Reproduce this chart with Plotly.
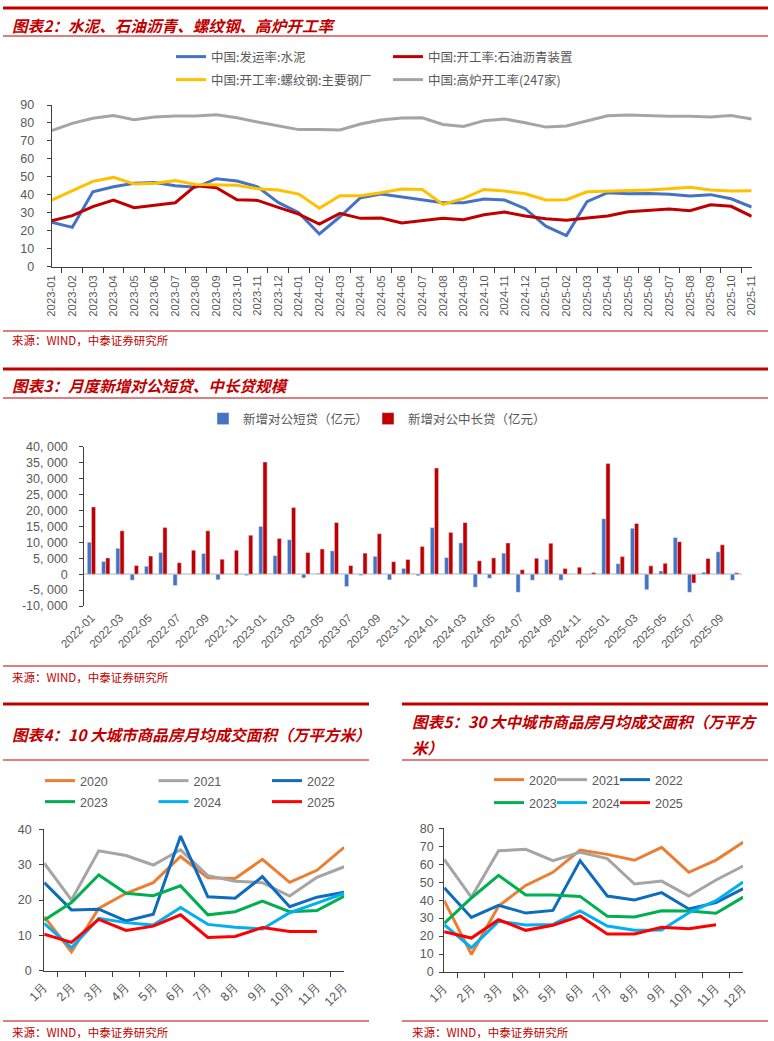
import plotly.graph_objects as go

W, H = 774, 1041


def px(x):
    return x / W


def py(y):
    return 1 - y / H


# ---------------- data: chart 2 (monthly rates, %) ----------------
months_top = [f"{y}-{m:02d}" for y in (2023, 2024, 2025) for m in range(1, 13)][:35]
cement_ship = [24.7, 21.9, 41.7, 44.5, 46.4, 46.9, 45.1, 44.2, 49.0, 47.7, 44.5, 35.8,
               30.1, 18.2, 27.8, 38.4, 40.4, 38.8, 37.1, 35.6, 35.6, 37.7, 37.1, 32.3,
               22.6, 17.3, 36.2, 41.2, 40.6, 40.8, 40.3, 39.3, 40.1, 37.8, 33.2]
asphalt_rate = [25.6, 28.4, 33.4, 37.1, 32.8, 34.3, 35.6, 45.1, 44.0, 37.3, 36.9, 33.0,
                29.3, 23.7, 29.7, 26.9, 27.1, 24.3, 25.8, 26.9, 26.2, 28.9, 30.4, 28.2,
                26.7, 25.8, 27.1, 28.2, 30.6, 31.4, 32.1, 31.2, 34.5, 33.6, 28.0]
rebar_rate = [37.1, 42.1, 47.5, 49.7, 46.0, 46.4, 47.9, 45.8, 45.6, 45.3, 43.4, 42.7,
              40.4, 32.5, 39.5, 39.5, 41.2, 43.2, 43.0, 34.7, 38.0, 43.0, 42.1, 40.6,
              37.1, 37.3, 41.7, 41.9, 42.3, 42.7, 43.4, 44.2, 42.7, 42.1, 42.3]
blast_rate = [75.7, 79.8, 82.6, 84.2, 81.8, 83.3, 83.9, 83.9, 84.6, 82.9, 80.5, 78.3,
              76.3, 76.3, 76.1, 79.4, 81.6, 82.7, 82.9, 79.2, 78.1, 81.3, 82.2, 80.1,
              77.7, 78.3, 81.3, 84.0, 84.4, 83.9, 83.7, 83.7, 83.3, 84.2, 82.2]

# ---------------- data: chart 3 (loans, 亿元) ----------------
months_bar = [f"{y}-{m:02d}" for y in (2022, 2023, 2024, 2025) for m in range(1, 13)][:46]
short_loans = [10000, 4000, 8100, -1900, 2500, 6800, -3600, -100, 6500, -1800, -100, -400,
               15000, 5800, 10800, -1200, 300, 7300, -3900, -400, 5600, -1800, 1800, -500,
               14600, 5200, 9800, -4100, -1300, 6600, -5700, -1900, 4600, -1900, 0, -200,
               17400, 3300, 14400, -4900, 1000, 11500, -5700, 600, 7000, -1900]
long_loans = [21100, 5100, 13600, 2700, 5700, 14600, 3600, 7500, 13600, 4700, 7500, 12200,
              35200, 11200, 20900, 6800, 7900, 16200, 2700, 6600, 12700, 3900, 4600, 8700,
              33300, 13100, 16200, 4200, 5100, 9800, 1400, 5000, 9700, 1800, 2200, 500,
              34700, 5500, 15900, 2600, 3400, 10200, -2800, 4900, 9200, 400]
bar_ticks = [-10000, -5000, 0, 5000, 10000, 15000, 20000, 25000, 30000, 35000, 40000]

# ---------------- data: chart 4 / 5 (万平方米) ----------------
month_labels = ["1月", "2月", "3月", "4月", "5月", "6月", "7月", "8月", "9月", "10月", "11月", "12月"]
years = ["2020", "2021", "2022", "2023", "2024", "2025"]
city10 = {
    "2020": [15.3, 5.3, 17.6, 21.9, 24.9, 32.3, 26.3, 26.1, 31.5, 25.0, 28.4, 34.9],
    "2021": [30.4, 20.0, 33.9, 32.6, 29.9, 34.2, 26.9, 25.3, 24.9, 21.1, 26.4, 29.4],
    "2022": [24.9, 17.2, 17.4, 14.1, 16.0, 38.1, 20.9, 20.5, 26.6, 18.1, 20.8, 22.2],
    "2023": [14.3, 19.3, 27.1, 21.9, 21.2, 24.0, 15.8, 16.7, 19.7, 16.7, 17.0, 21.1],
    "2024": [13.4, 6.5, 14.8, 13.6, 12.9, 17.9, 13.1, 12.3, 11.8, 16.4, 19.1, 21.9],
    "2025": [10.3, 8.0, 14.5, 11.4, 12.6, 15.8, 9.4, 9.7, 12.2, 11.1, 11.1],
}
city30 = {
    "2020": [39.7, 9.8, 36.7, 48.2, 55.5, 67.9, 65.5, 62.2, 69.4, 55.5, 62.3, 72.2],
    "2021": [62.7, 41.6, 67.5, 68.3, 62.0, 66.6, 63.1, 49.0, 50.6, 42.3, 51.2, 59.0],
    "2022": [46.9, 30.4, 37.1, 32.8, 34.3, 62.0, 42.3, 40.1, 44.2, 35.1, 38.6, 46.4],
    "2023": [27.1, 41.2, 53.8, 42.9, 42.9, 42.1, 31.0, 30.6, 34.1, 34.0, 32.7, 41.7],
    "2024": [26.3, 13.5, 28.2, 26.2, 26.5, 34.0, 25.6, 23.2, 23.4, 33.0, 39.7, 50.1],
    "2025": [22.4, 18.9, 29.1, 23.2, 26.0, 31.2, 21.2, 21.2, 24.9, 24.1, 26.3],
}
year_colors = {"2020": "#ED7D31", "2021": "#A5A5A5", "2022": "#0F6CBD",
               "2023": "#00B050", "2024": "#00B0F0", "2025": "#FF0000"}

RED = "#C00000"
GRAY_TXT = "#595959"
AX = "#404040"
CJK = "Noto Sans CJK SC"
LAT = "Liberation Sans, Arial, sans-serif"

fig = go.Figure()

# chart 2 lines
top_series = [
    ("中国:发运率:水泥", cement_ship, "#4472C4", "legend", None),
    ("中国:开工率:石油沥青装置", asphalt_rate, "#C00000", "legend", 200),
    ("中国:开工率:螺纹钢:主要钢厂", rebar_rate, "#FFC000", "legend2", None),
    ("中国:高炉开工率(247家)", blast_rate, "#A5A5A5", "legend2", 200),
]
for name, vals, col, lg, lw in top_series:
    fig.add_trace(go.Scatter(x=months_top, y=vals, mode="lines", name=name,
                             line=dict(color=col, width=3), xaxis="x", yaxis="y",
                             legend=lg, legendwidth=lw))

# chart 3 bars
fig.add_trace(go.Bar(x=months_bar, y=short_loans, name="新增对公短贷（亿元）",
                     marker=dict(color="#4472C4"), xaxis="x2", yaxis="y2", legend="legend3"))
fig.add_trace(go.Bar(x=months_bar, y=long_loans, name="新增对公中长贷（亿元）",
                     marker=dict(color="#C00000"), xaxis="x2", yaxis="y2", legend="legend3",
                     legendwidth=180))

# chart 4 / 5 lines
for i, yr in enumerate(years):
    lg = "legend4" if i < 3 else "legend5"
    v = city10[yr]
    fig.add_trace(go.Scatter(x=month_labels[:len(v)], y=v, mode="lines", name=yr,
                             line=dict(color=year_colors[yr], width=3),
                             xaxis="x3", yaxis="y3", legend=lg,
                             legendwidth=60 if i in (2, 5) else None))
for i, yr in enumerate(years):
    lg = "legend6" if i < 3 else "legend7"
    v = city30[yr]
    fig.add_trace(go.Scatter(x=month_labels[:len(v)], y=v, mode="lines", name=yr,
                             line=dict(color=year_colors[yr], width=3),
                             xaxis="x4", yaxis="y4", legend=lg,
                             legendwidth=50 if i in (2, 5) else None))

tickfont = dict(family=LAT, size=12.5, color=GRAY_TXT)


def cat_x(domain, anchor, angle, size, **kw):
    d = dict(domain=domain, anchor=anchor, type="category", showgrid=False,
             tickangle=angle, tickfont=dict(family=LAT, size=size, color=GRAY_TXT),
             zeroline=False, fixedrange=True, automargin=False)
    d.update(kw)
    return d


def val_y(domain, anchor, rng, dtick, **kw):
    d = dict(domain=domain, anchor=anchor, range=rng, dtick=dtick, showgrid=False,
             showline=True, linecolor=AX, linewidth=1, ticks="outside", ticklen=4,
             tickcolor=AX, tickfont=tickfont, zeroline=False, fixedrange=True,
             automargin=False)
    d.update(kw)
    return d


def legend_cfg(x, y, entry, font):
    return dict(orientation="h", x=px(x), y=py(y), xanchor="left", yanchor="middle",
                entrywidth=entry, entrywidthmode="pixels", bgcolor="rgba(0,0,0,0)",
                font=font, traceorder="normal")


leg_cjk = dict(family=CJK, size=12.5, color=GRAY_TXT)
leg_lat = dict(family=LAT, size=12.5, color=GRAY_TXT)

fig.update_layout(
    width=W, height=H, margin=dict(l=0, r=0, t=0, b=0, autoexpand=False),
    paper_bgcolor="white", plot_bgcolor="white",
    bargap=0.42, bargroupgap=0.0, barmode="group",
    xaxis=cat_x([px(51.7), px(751.7)], "y", -90, 11.3, tickson="boundaries",
                ticks="outside", ticklen=5, tickcolor=AX, showline=True, linecolor=AX,
                ticklabelstandoff=3),
    yaxis=val_y([py(266.7), py(105)], "x", [0, 90], 10, ticklabelstandoff=10),
    xaxis2=cat_x([px(84.3), px(741.7)], "y2", -45, 11.5, tickvals=months_bar[::2],
                 ticks="", showline=False, ticklabelstandoff=2),
    yaxis2=val_y([py(606), py(446.7)], "x2", [-10000, 40000], None,
                 tickvals=bar_ticks, ticktext=[f"{v:,}".replace(",", ", ") for v in bar_ticks],
                 zeroline=True, zerolinecolor="#D9D9D9", zerolinewidth=1.5,
                 ticklabelstandoff=9),
    xaxis3=cat_x([px(44.2), px(344.2)], "y3", -45, 12.5, tickson="boundaries",
                 ticks="outside", ticklen=5, tickcolor=AX, showline=True, linecolor=AX,
                 ticklabelstandoff=3),
    yaxis3=val_y([py(970.7), py(829.3)], "x3", [0, 40], 10, ticklabelstandoff=5),
    xaxis4=cat_x([px(444.2), px(743.2)], "y4", -45, 12.5, tickson="boundaries",
                 ticks="outside", ticklen=5, tickcolor=AX, showline=True, linecolor=AX,
                 ticklabelstandoff=3),
    yaxis4=val_y([py(972), py(828.3)], "x4", [0, 80], 10, ticklabelstandoff=3),
    legend=legend_cfg(171, 57, 172, leg_cjk),
    legend2=legend_cfg(171, 80, 172, leg_cjk),
    legend3=legend_cfg(203, 419, 120, leg_cjk),
    legend4=legend_cfg(40, 781, 68.5, leg_lat),
    legend5=legend_cfg(40, 802, 68.5, leg_lat),
    legend6=legend_cfg(489, 780, 18, leg_lat),
    legend7=legend_cfg(489, 803, 18, leg_lat),
)

# decorative red rules
rules = [
    (3, 768, 8, 3), (3, 768, 36, 1.2), (3, 768, 331, 1.2),
    (3, 768, 369, 3), (3, 768, 398, 1.2), (3, 768, 666, 1.2),
    (3, 369, 704, 3), (3, 369, 760, 1.2), (3, 369, 1021, 1.2),
    (402, 768, 704, 3), (402, 768, 760, 1.2), (402, 768, 1021, 1.2),
]
for x0, x1, yy, w in rules:
    fig.add_shape(type="line", xref="paper", yref="paper", x0=px(x0), x1=px(x1),
                  y0=py(yy), y1=py(yy), line=dict(color=RED, width=w))

titles = [
    ("图表2：水泥、石油沥青、螺纹钢、高炉开工率", 10, 24.5),
    ("图表3：月度新增对公短贷、中长贷规模", 10, 385),
    ("图表4：10 大城市商品房月均成交面积（万平方米）", 10, 734),
    ("图表5：30 大中城市商品房月均成交面积（万平方", 410, 721.5),
    ("米）", 410, 747),
]
for t, x, yy in titles:
    fig.add_annotation(text=f"<b><i>{t}</i></b>", xref="paper", yref="paper",
                       x=px(x), y=py(yy), xanchor="left", yanchor="middle", showarrow=False,
                       font=dict(family=CJK, size=15.6, color=RED))

sources = [(10, 340), (10, 677), (10, 1032), (410, 1032)]
for x, yy in sources:
    fig.add_annotation(text="来源：WIND，中泰证券研究所", xref="paper", yref="paper",
                       x=px(x), y=py(yy), xanchor="left", yanchor="middle", showarrow=False,
                       font=dict(family=CJK, size=11.5, color=RED))

fig.write_html("out.html", config={"displayModeBar": False},
               post_script="document.body.style.margin='0';document.body.style.overflow='hidden';")
